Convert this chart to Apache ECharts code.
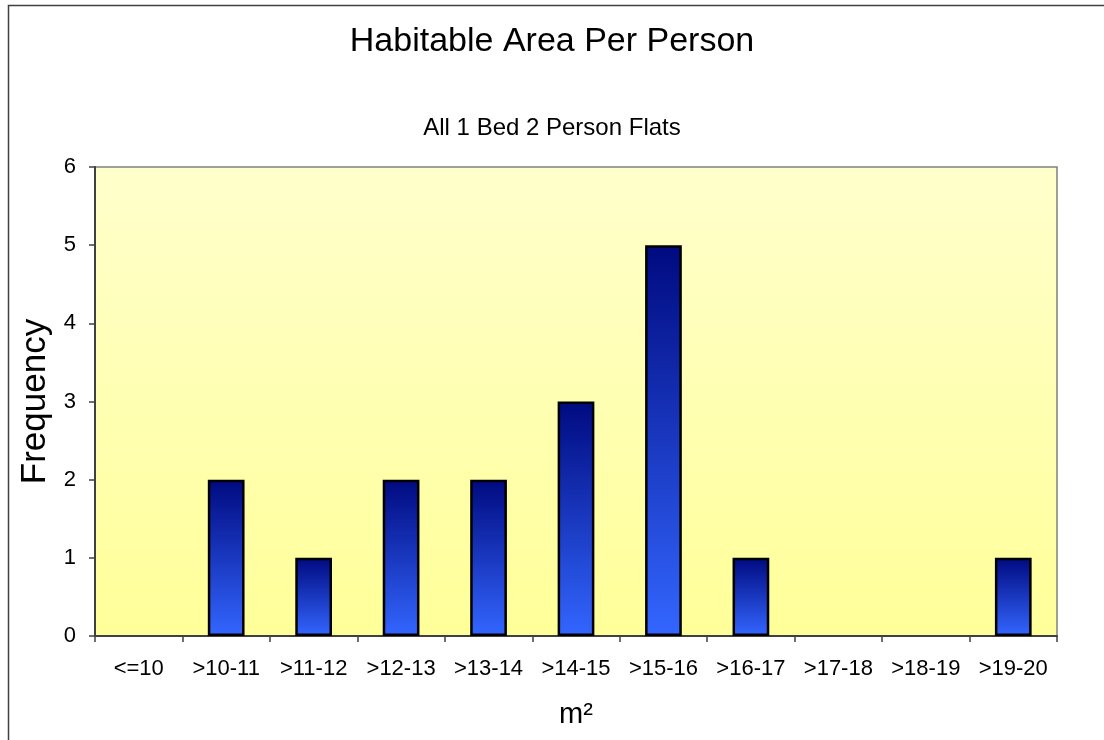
<!DOCTYPE html>
<html>
<head>
<meta charset="utf-8">
<script src="https://cdn.jsdelivr.net/npm/echarts@6/dist/echarts.min.js"></script>
<style>
  html, body { margin: 0; padding: 0; background: #fff; }
  #chart { width: 1104px; height: 740px; }
</style>
</head>
<body>
<div id="chart"></div>
<script>
const categories = ['<=10', '>10-11', '>11-12', '>12-13', '>13-14', '>14-15', '>15-16', '>16-17', '>17-18', '>18-19', '>19-20']
const frequency = [0, 2, 1, 2, 2, 3, 5, 1, 0, 0, 1]
const yTicks = [0, 1, 2, 3, 4, 5, 6]

const FONT = '"Liberation Sans", Arial, sans-serif'

const myChart = echarts.init(document.getElementById('chart'))

const option = {
  backgroundColor: '#ffffff',
  animation: false,
  title: [
    {
      text: 'Habitable Area Per Person',
      left: 'center',
      top: 20,
      textStyle: { fontFamily: FONT, fontSize: 34, fontWeight: 'normal', color: '#000' },
    },
    {
      text: 'All 1 Bed 2 Person Flats',
      left: 'center',
      top: 111,
      textStyle: { fontFamily: FONT, fontSize: 24, fontWeight: 'normal', color: '#000' },
    },
  ],
  graphic: [
    {
      type: 'rect',
      shape: { x: 8.5, y: 5.5, width: 1110, height: 760 },
      style: { fill: 'none', stroke: '#404040', lineWidth: 1.5 },
      silent: true,
    },
  ],
  grid: {
    left: 95,
    right: 47,
    top: 167,
    bottom: 104,
    show: true,
    borderColor: '#808080',
    borderWidth: 1.5,
    backgroundColor: new echarts.graphic.LinearGradient(0, 0, 0, 1, [
      { offset: 0, color: '#ffffcc' },
      { offset: 1, color: '#ffff99' },
    ]),
  },
  xAxis: {
    type: 'category',
    data: categories,
    name: 'm²',
    nameLocation: 'middle',
    nameGap: 64,
    nameTextStyle: { fontFamily: FONT, fontSize: 29, color: '#000' },
    axisLine: { lineStyle: { color: '#404040', width: 2 } },
    axisTick: { show: true, length: 6, alignWithLabel: false, lineStyle: { color: '#404040', width: 1.5 } },
    axisLabel: { fontFamily: FONT, fontSize: 22, color: '#000', margin: 22, interval: 0 },
  },
  yAxis: {
    type: 'value',
    min: yTicks[0],
    max: yTicks[yTicks.length - 1],
    interval: 1,
    name: 'Frequency',
    nameLocation: 'middle',
    nameGap: 41,
    nameTextStyle: { fontFamily: FONT, fontSize: 35, color: '#000' },
    axisLine: { show: true, lineStyle: { color: '#404040', width: 2 } },
    axisTick: { show: true, length: 6, lineStyle: { color: '#404040', width: 1.5 } },
    axisLabel: { fontFamily: FONT, fontSize: 22, color: '#000', margin: 19 },
    splitLine: { show: false },
  },
  series: [
    {
      type: 'bar',
      // empty bins are left blank, not drawn as flat bars
      data: frequency.map((v) => (v === 0 ? '-' : v)),
      barWidth: '42%',
      itemStyle: {
        borderColor: '#000',
        borderWidth: 2.5,
        color: new echarts.graphic.LinearGradient(0, 0, 0, 1, [
          { offset: 0, color: '#000a80' },
          { offset: 1, color: '#3366ff' },
        ]),
      },
    },
  ],
}

myChart.setOption(option)
</script>
</body>
</html>
